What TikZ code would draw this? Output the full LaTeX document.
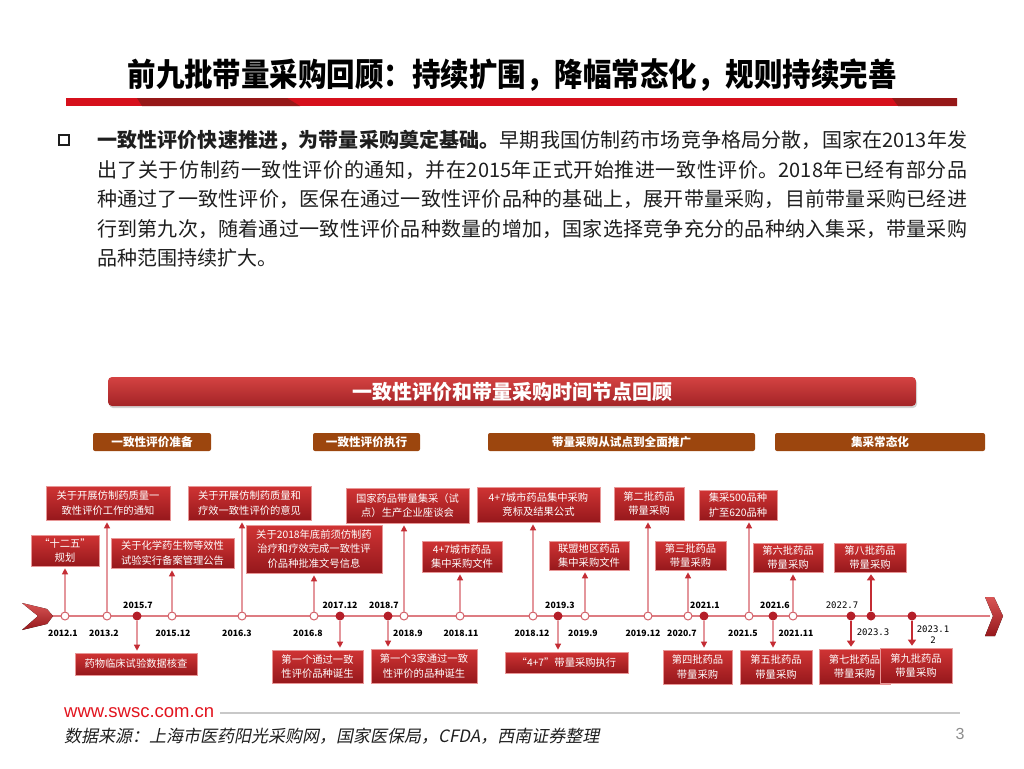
\documentclass[tikz,border=0pt]{standalone}
\usepackage{fontspec}
\setmainfont{Noto Sans CJK SC}
\newfontfamily\wwwfont{Liberation Sans}
\newfontfamily\srcfont[FakeSlant=0.2]{Noto Sans CJK SC}
\newfontfamily\titlecjk[FakeStretch=0.89]{Noto Sans CJK SC}
\newfontfamily\tlmono{DejaVu Sans Mono}
\usetikzlibrary{arrows.meta,shadows}
\definecolor{barred}{RGB}{214,16,28}
\definecolor{bardark}{RGB}{150,24,24}
\definecolor{bantop}{RGB}{212,66,66}
\definecolor{banbot}{RGB}{163,36,38}
\definecolor{phbrown}{RGB}{156,70,14}
\definecolor{evtop}{RGB}{208,52,52}
\definecolor{evbot}{RGB}{150,24,28}
\definecolor{evline}{RGB}{232,150,150}
\definecolor{lnkpink}{RGB}{228,150,156}
\definecolor{arrred}{RGB}{196,44,52}
\definecolor{holred}{RGB}{210,96,104}
\definecolor{dotred}{RGB}{180,30,40}
\definecolor{tlred}{RGB}{222,124,130}
\definecolor{wwwred}{RGB}{226,20,30}
\definecolor{footgray}{RGB}{200,200,200}
\definecolor{bodyblack}{RGB}{30,30,30}
\newcommand{\titlefont}{\fontsize{32}{38}\selectfont\titlecjk\bfseries}
\newcommand{\bodyfont}{\fontsize{20}{29.5}\selectfont}
\newcommand{\banfont}{\fontsize{20}{24}\selectfont\bfseries}
\newcommand{\phfont}{\fontsize{11.6}{14}\selectfont\bfseries}
\newcommand{\evfont}{\fontsize{10.3}{14.5}\selectfont}
\newcommand{\datefont}{\fontsize{8.7}{10}\selectfont\bfseries}
\tikzset{
  banner/.style={rectangle,rounded corners=4pt,minimum width=808pt,minimum height=29pt,
    top color=bantop,bottom color=banbot,text=white,font=\banfont,
    drop shadow={opacity=0.35,shadow xshift=1pt,shadow yshift=-2pt}},
  phasebox/.style={rectangle,rounded corners=2pt,fill=phbrown,text=white,font=\phfont,
    minimum height=18pt,inner sep=0pt},
  evbox/.style={rectangle,draw=evline,line width=0.6pt,top color=evtop,bottom color=evbot,
    text=white,align=center,font=\evfont,inner sep=1pt},
  hol/.style={circle,draw=holred,fill=white,line width=1pt,minimum size=8pt,inner sep=0pt},
  evdot/.style={circle,fill=dotred,minimum size=9pt,inner sep=0pt},
  datel/.style={font=\datefont,inner sep=0pt},
  datem/.style={font=\fontsize{9}{11}\selectfont\tlmono,inner sep=0pt,align=center},
  tline/.style={draw=tlred,line width=1.5pt},
  chev/.style={top color=bantop!90!white,bottom color=evbot},
  uplink/.style={draw=lnkpink,line width=1.2pt,-{Triangle[length=6pt,width=6pt,color=arrred]},shorten >=2pt},
  boldlink/.style={draw=arrred,line width=2.6pt,-{Triangle[length=6pt,width=8pt]},shorten >=2pt},
}
\begin{document}
\begin{tikzpicture}[x=1pt,y=-1pt]
\useasboundingbox (0,0) rectangle (1024,768);
% title and bar
\node[font=\titlefont] (title) at (512,75) {前九批带量采购回顾：持续扩围，降幅常态化，规则持续完善};
\fill[barred] (66,98) rectangle (957,106);
\fill[bardark] (137,98) -- (287,98) -- (300,106) -- (142,106) -- cycle;
\fill[bardark] (892,98) -- (957,98) -- (957,106) -- (898,106) -- cycle;
% intro text
\node[draw=bodyblack,line width=1.3pt,minimum size=10pt,inner sep=0pt] (bul) at (64,140) {};
\node[anchor=north west,text width=870pt,align=justify,inner sep=0pt,font=\bodyfont,text=bodyblack] (intro) at (97,130)
  {\XeTeXlinebreaklocale "zh"\XeTeXlinebreakskip=0pt plus 2pt
   {\bfseries 一致性评价快速推进，为带量采购奠定基础。}早期我国仿制药市场竞争格局分散，国家在2013年发\linebreak
   出了关于仿制药一致性评价的通知，并在2015年正式开始推进一致性评价。2018年已经有部分品\linebreak
   种通过了一致性评价，医保在通过一致性评价品种的基础上，展开带量采购，目前带量采购已经进\linebreak
   行到第九次，随着通过一致性评价品种数量的增加，国家选择竞争充分的品种纳入集采，带量采购\linebreak
   品种范围持续扩大。};
% banner and phases
\node[banner] (ban) at (512,391.5) {一致性评价和带量采购时间节点回顾};
\node[phasebox,minimum width=118pt] (p1) at (152,442) {一致性评价准备};
\node[phasebox,minimum width=107pt] (p2) at (366.5,442) {一致性评价执行};
\node[phasebox,minimum width=267pt] (p3) at (621.5,442) {带量采购从试点到全面推广};
\node[phasebox,minimum width=210pt] (p4) at (880,442) {集采常态化};
% timeline
\coordinate (tl) at (40,616);
\coordinate (tr) at (990,616);
\draw[tline] (tl) -- (tr);
\fill[chev] (22,603) -- (47,609) -- (53,616) -- (47,624) -- (22,630) -- (38,616) -- cycle;
\fill[chev] (985,597) -- (994,597) -- (1003,616) -- (995,636) -- (985,636) -- (993,616) -- cycle;
\foreach \n/\x/\lx/\dt in {1/65/63/2012.1,2/107/104/2013.2,3/172/173/2015.12,4/242/237/2016.3,
    5/314/308/2016.8,6/404/408/2018.9,7/460/461/2018.11,8/533/532/2018.12,9/585/583/2019.9,
    10/648/643/2019.12,11/688/682/2020.7,12/749/743/2021.5,13/793/796/2021.11}{
  \node[hol] (c\n) at (\x,616) {};
  \node[datel] (dc\n) at (\lx,633) {\dt};
}
\foreach \n/\x/\lx/\dt in {1/137/138/2015.7,2/340/340/2017.12,3/388/384/2018.7,4/558/560/2019.3,
    5/704/705/2021.1,6/773/775/2021.6}{
  \node[evdot] (f\n) at (\x,616) {};
  \node[datel] (df\n) at (\lx,605) {\dt};
}
\node[evdot] (f7) at (851,616) {};
\node[evdot] (f8) at (871,616) {};
\node[evdot] (f9) at (912,616) {};
\node[datem] (df7) at (842,605) {2022.7};
\node[datem] (df8) at (873,632) {2023.3};
\node[datem] (df9) at (933,635) {2023.1\\2};
% upper events
\node[evbox,minimum width=68pt,minimum height=31pt] (u1) at (65,550.5) {“十二五”\\规划};
\node[evbox,minimum width=124pt,minimum height=34pt] (u2) at (108,503) {关于开展仿制药质量一\\致性评价工作的通知};
\node[evbox,minimum width=123pt,minimum height=30pt] (u3) at (172.5,553) {关于化学药生物等效性\\试验实行备案管理公告};
\node[evbox,minimum width=123pt,minimum height=34pt] (u4) at (249.5,503) {关于开展仿制药质量和\\疗效一致性评价的意见};
\node[evbox,minimum width=136pt,minimum height=48pt] (u5) at (314,549) {关于2018年底前须仿制药\\治疗和疗效完成一致性评\\价品种批准文号信息};
\node[evbox,minimum width=123pt,minimum height=35pt] (u6) at (407.5,505.5) {国家药品带量集采（试\\点）生产企业座谈会};
\node[evbox,minimum width=80pt,minimum height=31pt] (u7) at (462,556.5) {4+7城市药品\\集中采购文件};
\node[evbox,minimum width=123pt,minimum height=35pt] (u8) at (538.5,504.5) {4+7城市药品集中采购\\竞标及结果公式};
\node[evbox,minimum width=80pt,minimum height=29pt] (u9) at (589,555.5) {联盟地区药品\\集中采购文件};
\node[evbox,minimum width=70pt,minimum height=33pt] (u10) at (649,503.5) {第二批药品\\带量采购};
\node[evbox,minimum width=71pt,minimum height=29pt] (u11) at (690.5,555.5) {第三批药品\\带量采购};
\node[evbox,minimum width=78pt,minimum height=30pt] (u12) at (738,505) {集采500品种\\扩至620品种};
\node[evbox,minimum width=70pt,minimum height=29pt] (u13) at (788,557.5) {第六批药品\\带量采购};
\node[evbox,minimum width=72pt,minimum height=29pt] (u14) at (870,557.5) {第八批药品\\带量采购};
% lower events
\node[evbox,minimum width=122pt,minimum height=22pt] (l1) at (136,664) {药物临床试验数据核查};
\node[evbox,minimum width=91pt,minimum height=33pt] (l2) at (317.5,666.5) {第一个通过一致\\性评价品种诞生};
\node[evbox,minimum width=106pt,minimum height=34pt] (l3) at (424,666) {第一个3家通过一致\\性评价的品种诞生};
\node[evbox,minimum width=123pt,minimum height=21pt] (l4) at (566.5,662.5) {“4+7”带量采购执行};
\node[evbox,minimum width=69pt,minimum height=34pt] (l5) at (697.5,667) {第四批药品\\带量采购};
\node[evbox,minimum width=72pt,minimum height=34pt] (l6) at (776,667) {第五批药品\\带量采购};
\node[evbox,minimum width=71pt,minimum height=35pt] (l7) at (854.5,666.5) {第七批药品\\带量采购};
\node[evbox,minimum width=72pt,minimum height=35pt] (l8) at (916,665.5) {第九批药品\\带量采购};
% connectors
\foreach \n in {1,...,13}
  \draw[uplink] (c\n) -- (c\n |- u\n.south);
\foreach \n in {1,...,6}
  \draw[uplink] (f\n) -- (f\n |- l\n.north);
\draw[boldlink] (f7) -- (f7 |- l7.north);
\draw[boldlink] (f8) -- (f8 |- u14.south);
\draw[boldlink] (f9) -- (f9 |- l8.north);
% footer
\node[anchor=west,inner sep=0pt,font=\fontsize{18.5}{20}\selectfont\wwwfont,text=wwwred] (www) at (64,713) {www.swsc.com.cn};
\coordinate (fend) at (960,713);
\draw[footgray,line width=2pt] ([xshift=6pt]www.east) -- (fend);
\node[anchor=west,inner sep=0pt,font=\fontsize{17}{20}\selectfont\srcfont,text=bodyblack] (src) at (64,736)
  {数据来源：上海市医药阳光采购网，国家医保局，CFDA，西南证券整理};
\node[font=\fontsize{16}{18}\selectfont\wwwfont,text=black!45] (pg) at (960,734) {3};
\end{tikzpicture}
\end{document}
